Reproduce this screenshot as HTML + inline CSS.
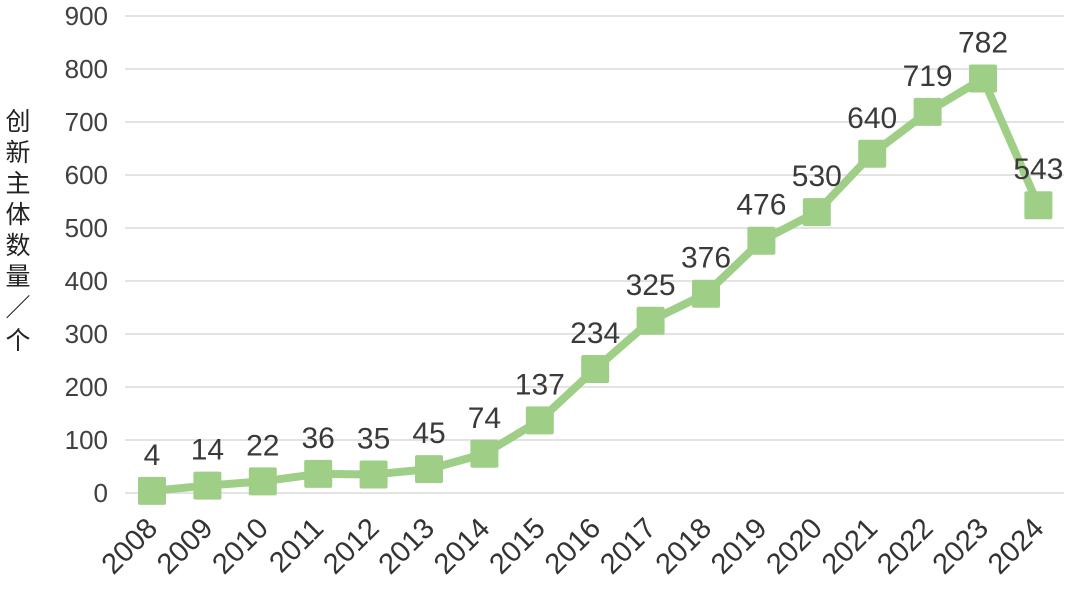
<!DOCTYPE html>
<html><head><meta charset="utf-8"><style>
html,body{margin:0;padding:0;background:#fff;}
svg{display:block;font-family:"Liberation Sans","Noto Sans CJK SC",sans-serif;}
</style></head><body>
<svg width="1080" height="593" viewBox="0 0 1080 593">
<g stroke="#e3e3e3" stroke-width="2">
<line x1="125" x2="1064" y1="493" y2="493"/><line x1="125" x2="1064" y1="440" y2="440"/>
<line x1="125" x2="1064" y1="387" y2="387"/><line x1="125" x2="1064" y1="334" y2="334"/>
<line x1="125" x2="1064" y1="281" y2="281"/><line x1="125" x2="1064" y1="228" y2="228"/>
<line x1="125" x2="1064" y1="175" y2="175"/><line x1="125" x2="1064" y1="122" y2="122"/>
<line x1="125" x2="1064" y1="69" y2="69"/><line x1="125" x2="1064" y1="16" y2="16"/>
</g>
<g fill="#404040" font-size="26" text-anchor="end">
<text x="108" y="502">0</text><text x="108" y="449">100</text><text x="108" y="396">200</text>
<text x="108" y="343">300</text><text x="108" y="290">400</text><text x="108" y="237">500</text>
<text x="108" y="184">600</text><text x="108" y="131">700</text><text x="108" y="78">800</text>
<text x="108" y="25">900</text>
</g>
<g fill="#222" font-size="25" text-anchor="middle">
<text x="18" y="130">创</text><text x="18" y="161">新</text><text x="18" y="192">主</text>
<text x="18" y="223">体</text><text x="18" y="254">数</text><text x="18" y="285">量</text>
<text x="18" y="316">／</text><text x="18" y="349">个</text>
</g>
<g id="chart"></g>
</svg>
<script>
var v=[4,14,22,36,35,45,74,137,234,325,376,476,530,640,719,782,543];
var g=document.getElementById('chart'),pts=[],h='';
for(var i=0;i<v.length;i++){var x=152+i*55.4,y=493-v[i]*0.53;pts.push(x+','+y);}
h+='<polyline points="'+pts.join(' ')+'" fill="none" stroke="#9fcf87" stroke-width="8" stroke-linejoin="round"/>';
for(var i=0;i<v.length;i++){var x=152+i*55.4,y=493-v[i]*0.53;
h+='<rect x="'+(x-14)+'" y="'+(y-14)+'" width="28" height="28" rx="2" fill="#9fcf87"/>';
h+='<text x="'+x+'" y="'+(y-26)+'" font-size="30" fill="#3a3a3a" text-anchor="middle">'+v[i]+'</text>';
h+='<text transform="translate('+(x+7)+',530) rotate(-45)" font-size="29" fill="#333" text-anchor="end">'+(2008+i)+'</text>';}
g.innerHTML=h;
</script>
</body></html>
